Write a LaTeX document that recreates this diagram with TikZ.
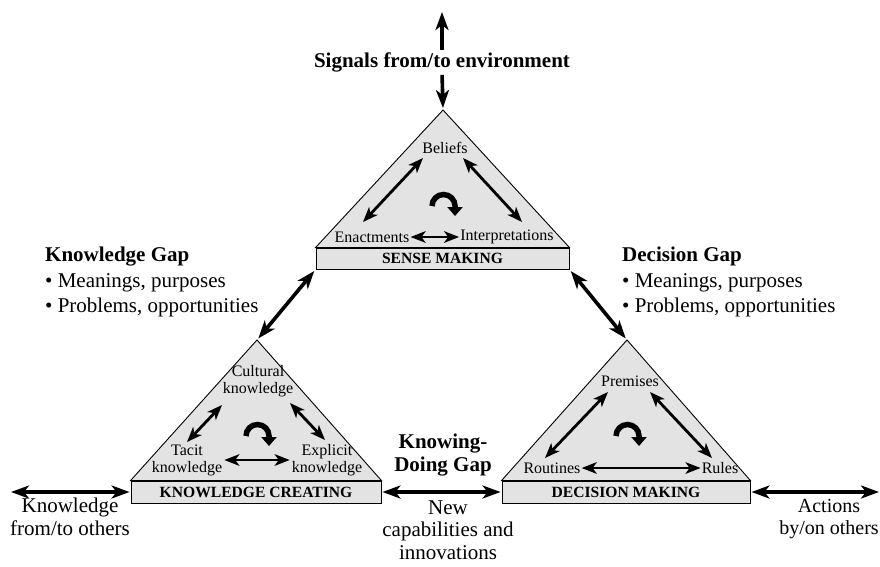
\documentclass[tikz,border=0pt]{standalone}
\usepackage{fontspec}
\setmainfont{Liberation Serif}
\usetikzlibrary{arrows.meta,calc}
\begin{document}
\begin{tikzpicture}[x=1pt,y=-1pt,
  tri/.style={draw=black, line width=0.9pt, fill=gray!22, line join=miter},
  bar/.style={draw=black, line width=0.9pt, fill=gray!22, inner sep=0pt,
    font=\fontsize{15.6}{17}\selectfont\bfseries},
  big/.style={font=\fontsize{21}{23}\selectfont, align=center, inner sep=0pt},
  inner/.style={font=\fontsize{16}{17}\selectfont, align=center, inner sep=0pt},
  bigtip/.tip={Stealth[length=18pt,width=13pt,inset=5pt]},
  smalltip/.tip={Stealth[length=15pt,width=11.5pt,inset=4pt]},
  outarrow/.style={line width=3.6pt, bigtip-bigtip},
  onearrow/.style={line width=3.6pt, -bigtip},
  inarrow/.style={line width=2.8pt, smalltip-smalltip},
  cyc/.style={line width=5.5pt, -{Triangle[length=9pt,width=15pt]}},
]
\useasboundingbox (0,0) rectangle (880,566);

% ---------- boxes and triangles ----------
\node[bar, minimum width=253pt, minimum height=21pt] (smbox) at (442.5,258.5) {SENSE MAKING};
\node[bar, minimum width=250pt, minimum height=22pt] (kcbox) at (256,492) {KNOWLEDGE CREATING};
\node[bar, minimum width=248pt, minimum height=22pt] (dmbox) at (626,492) {DECISION MAKING};

\coordinate (Tapex) at (443,110);
\coordinate (Lapex) at (257,340);
\coordinate (Rapex) at (627,340);

\draw[tri] (Tapex) -- (smbox.north east) -- (smbox.north west) -- cycle;
\draw[tri] (Lapex) -- (kcbox.north east) -- (kcbox.north west) -- cycle;
\draw[tri] (Rapex) -- (dmbox.north east) -- (dmbox.north west) -- cycle;

% ---------- top triangle: sense making ----------
\node[inner] (beliefs) at (445,148) {Beliefs};
\node[inner] (enact) at (372,237) {Enactments};
\node[inner] (interp) at (507,237) {Interpretations};
\draw[inarrow] ($(beliefs)+(-22,10)$) -- ($(enact)+(-9,-15)$);
\draw[inarrow] ($(beliefs)+(18,10)$) -- ($(interp)+(15,-15)$);
\draw[inarrow, shorten <=1pt, shorten >=1pt] (enact.east) -- (interp.west);
\draw[cyc] ($(beliefs)+(-13,58)$) arc[start angle=180, end angle=360, radius=11.5] -- ++(0,10);

% ---------- left triangle: knowledge creating ----------
\node[inner] (cult) at (258,381) {Cultural\\knowledge};
\node[inner] (tacit) at (187,460) {Tacit\\knowledge};
\node[inner] (expl) at (327,460) {Explicit\\knowledge};
\draw[inarrow] ($(cult)+(-36,24)$) -- ($(tacit)+(0,-18)$);
\draw[inarrow] ($(cult)+(32,22)$) -- ($(expl)+(-2,-20)$);
\draw[inarrow, shorten <=2pt, shorten >=2pt] (tacit.east) -- (expl.west);
\draw[cyc] ($(cult)+(-12,55)$) arc[start angle=180, end angle=360, radius=11.5] -- ++(0,10);

% ---------- right triangle: decision making ----------
\node[inner] (prem) at (630,381) {Premises};
\node[inner] (rout) at (552,468) {Routines};
\node[inner] (rules) at (720,468) {Rules};
\draw[inarrow] ($(prem)+(-22,11)$) -- ($(rout)+(-7,-10)$);
\draw[inarrow] ($(prem)+(20,11)$) -- ($(rules)+(-8,-10)$);
\draw[inarrow, shorten <=1pt, shorten >=1pt] (rout.east) -- (rules.west);
\draw[cyc] ($(prem)+(-14,55)$) arc[start angle=180, end angle=360, radius=11.5] -- ++(0,10);

% ---------- signals ----------
\node[big, font=\fontsize{21}{23}\selectfont\bfseries] (sig) at (442,62) {Signals from/to environment};
\coordinate (sigtop) at (442,12);
\draw[onearrow, shorten <=2pt] (sig.north) -- (sigtop);
\draw[onearrow, shorten <=3pt, shorten >=2pt] (sig.south) -- (Tapex);

% ---------- gaps ----------
\node[big, align=left, anchor=west, font=\fontsize{21}{25.5}\selectfont] (kgap) at (45,282)
  {\textbf{Knowledge Gap}\\• Meanings, purposes\\• Problems, opportunities};
\node[big, align=left, anchor=west, font=\fontsize{21}{25.5}\selectfont] (dgap) at (622,282)
  {\textbf{Decision Gap}\\• Meanings, purposes\\• Problems, opportunities};
\node[big, font=\fontsize{21}{23}\selectfont\bfseries] (kdgap) at (443,455) {Knowing-\\Doing Gap};

\draw[outarrow, shorten <=2pt, shorten >=2pt] (smbox.south west) -- (Lapex);
\draw[outarrow, shorten <=2pt, shorten >=2pt] (smbox.south east) -- (Rapex);

% ---------- bottom ----------
\coordinate (lfree) at (11,492);
\coordinate (rfree) at (879,492);
\draw[outarrow, shorten >=1pt] (lfree) -- (kcbox.west);
\draw[outarrow, shorten <=1pt, shorten >=1pt] (kcbox.east) -- (dmbox.west);
\draw[outarrow, shorten <=1pt] (dmbox.east) -- (rfree);

\node[big] (kothers) at (70,517) {Knowledge\\from/to others};
\node[big, font=\fontsize{21}{22.5}\selectfont] (newcap) at (448,530) {New\\capabilities and\\innovations};
\node[big, font=\fontsize{20}{22.5}\selectfont] (actions) at (829,519) {Actions\\by/on others};
\end{tikzpicture}
\end{document}
